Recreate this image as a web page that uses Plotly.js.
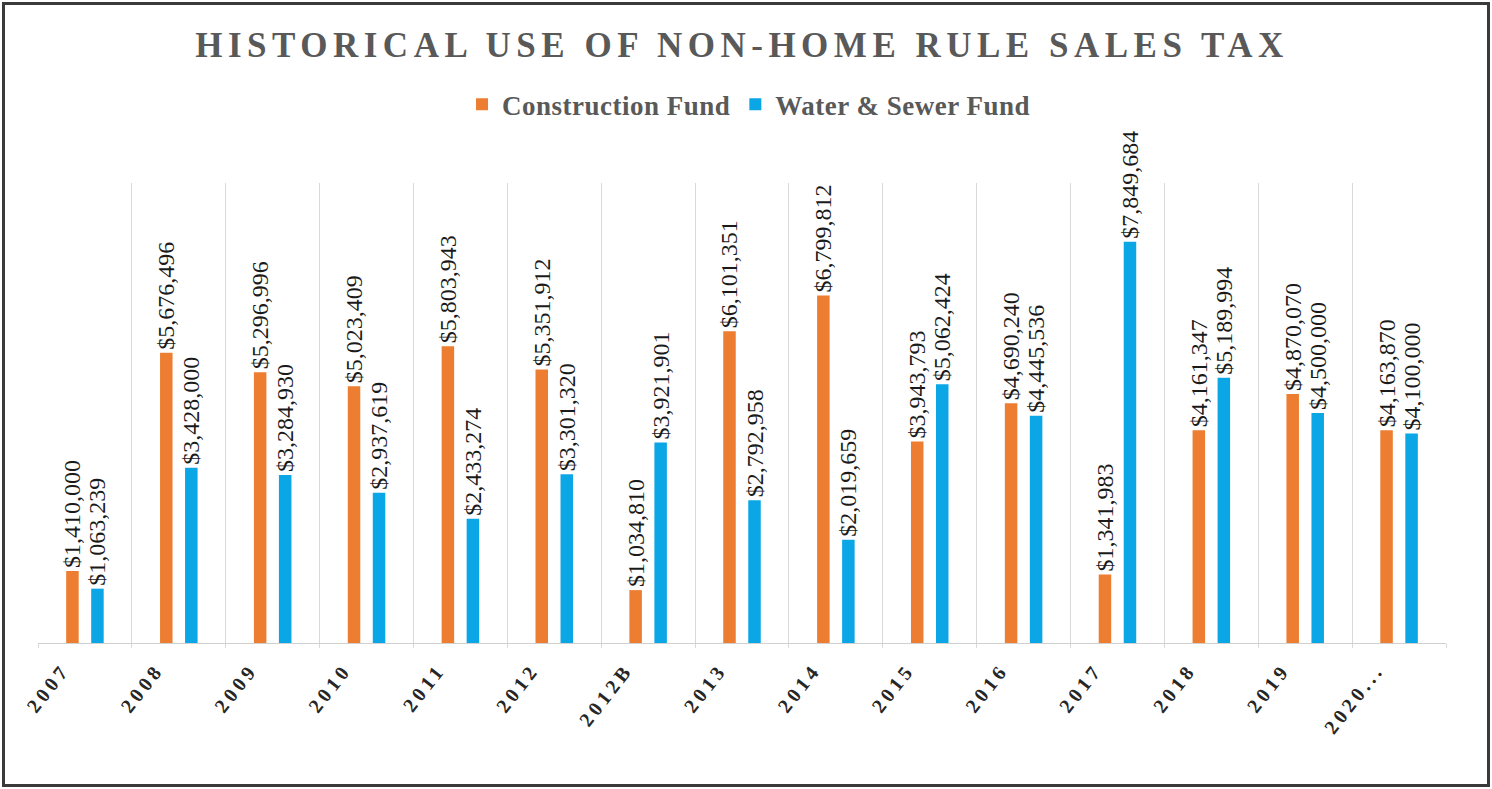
<!DOCTYPE html>
<html>
<head>
<meta charset="utf-8">
<script src="https://cdn.plot.ly/plotly-3.0.1.min.js"></script>
<style>
  html, body { margin: 0; padding: 0; background: #fff; }
  #wrap { position: relative; width: 1492px; height: 789px; }
  #chart { width: 1492px; height: 789px; }
  #frame { position: absolute; left: 2px; top: 2px; width: 1482px; height: 779px;
           border: 3px solid #3a3a3a; pointer-events: none; }
  .gtitle { letter-spacing: 5.5px; }
  .xtick text { letter-spacing: 4px; }
  .legendtext { letter-spacing: 0.5px; }
</style>
</head>
<body>
<div id="wrap">
  <div id="chart"></div>
  <div id="frame"></div>
</div>
<script>
const categories = ["2007","2008","2009","2010","2011","2012","2012B","2013","2014","2015","2016","2017","2018","2019","2020..."];
const constructionFund = [1410000,5676496,5296996,5023409,5803943,5351912,1034810,6101351,6799812,3943793,4690240,1341983,4161347,4870070,4163870];
const waterSewerFund = [1063239,3428000,3284930,2937619,2433274,3301320,3921901,2792958,2019659,5062424,4445536,7849684,5189994,4500000,4100000];
const seriesNames = ["Construction Fund","Water & Sewer Fund"];

const fmt = v => "$" + v.toLocaleString("en-US");

const labelFont = {family: "Liberation Serif, Times New Roman, serif", size: 24, color: "#1a1a1a"};

const traces = [
  {type: "bar", name: seriesNames[0], x: categories, y: constructionFund,
   marker: {color: "#ED7D31"}, text: constructionFund.map(fmt),
   textposition: "outside", textangle: -90, constraintext: "none", cliponaxis: false,
   textfont: labelFont, hoverinfo: "x+y"},
  {type: "bar", name: seriesNames[1], x: categories, y: waterSewerFund,
   marker: {color: "#0BA6E6"}, text: waterSewerFund.map(fmt),
   textposition: "outside", textangle: -90, constraintext: "none", cliponaxis: false,
   textfont: labelFont, hoverinfo: "x+y"}
];

const layout = {
  width: 1492, height: 789,
  margin: {l: 38, r: 46, t: 183, b: 146},
  paper_bgcolor: "#fff", plot_bgcolor: "#fff",
  barmode: "group", bargap: 0.467, bargroupgap: 0.5,
  title: {text: "HISTORICAL USE OF NON-HOME RULE SALES TAX",
          font: {family: "Liberation Serif, Times New Roman, serif", size: 35, color: "#595959", weight: "bold"},
          x: 0.5, xref: "paper", y: 0.943, yanchor: "middle"},
  showlegend: true,
  legend: {orientation: "h", x: 0.505, xanchor: "center", y: 1.17, yanchor: "middle",
           font: {family: "Liberation Serif, Times New Roman, serif", size: 27, color: "#595959", weight: "bold"},
           itemwidth: 30, traceorder: "normal"},
  xaxis: {type: "category", tickson: "boundaries", showgrid: true, gridcolor: "#d9d9d9", gridwidth: 1,
          showline: true, linecolor: "#d0d0d0", linewidth: 1, ticks: "outside", ticklen: 4, tickcolor: "#d9d9d9",
          tickangle: -52, ticklabelshift: -22, ticklabelstandoff: 6,
          tickfont: {family: "Liberation Serif, Times New Roman, serif", size: 20, color: "#262626", weight: "bold"},
          zeroline: false},
  yaxis: {range: [0, 9000000], visible: false, showgrid: false, zeroline: false, fixedrange: true}
};

Plotly.newPlot("chart", traces, layout, {displayModeBar: false, staticPlot: true});
</script>
</body>
</html>
